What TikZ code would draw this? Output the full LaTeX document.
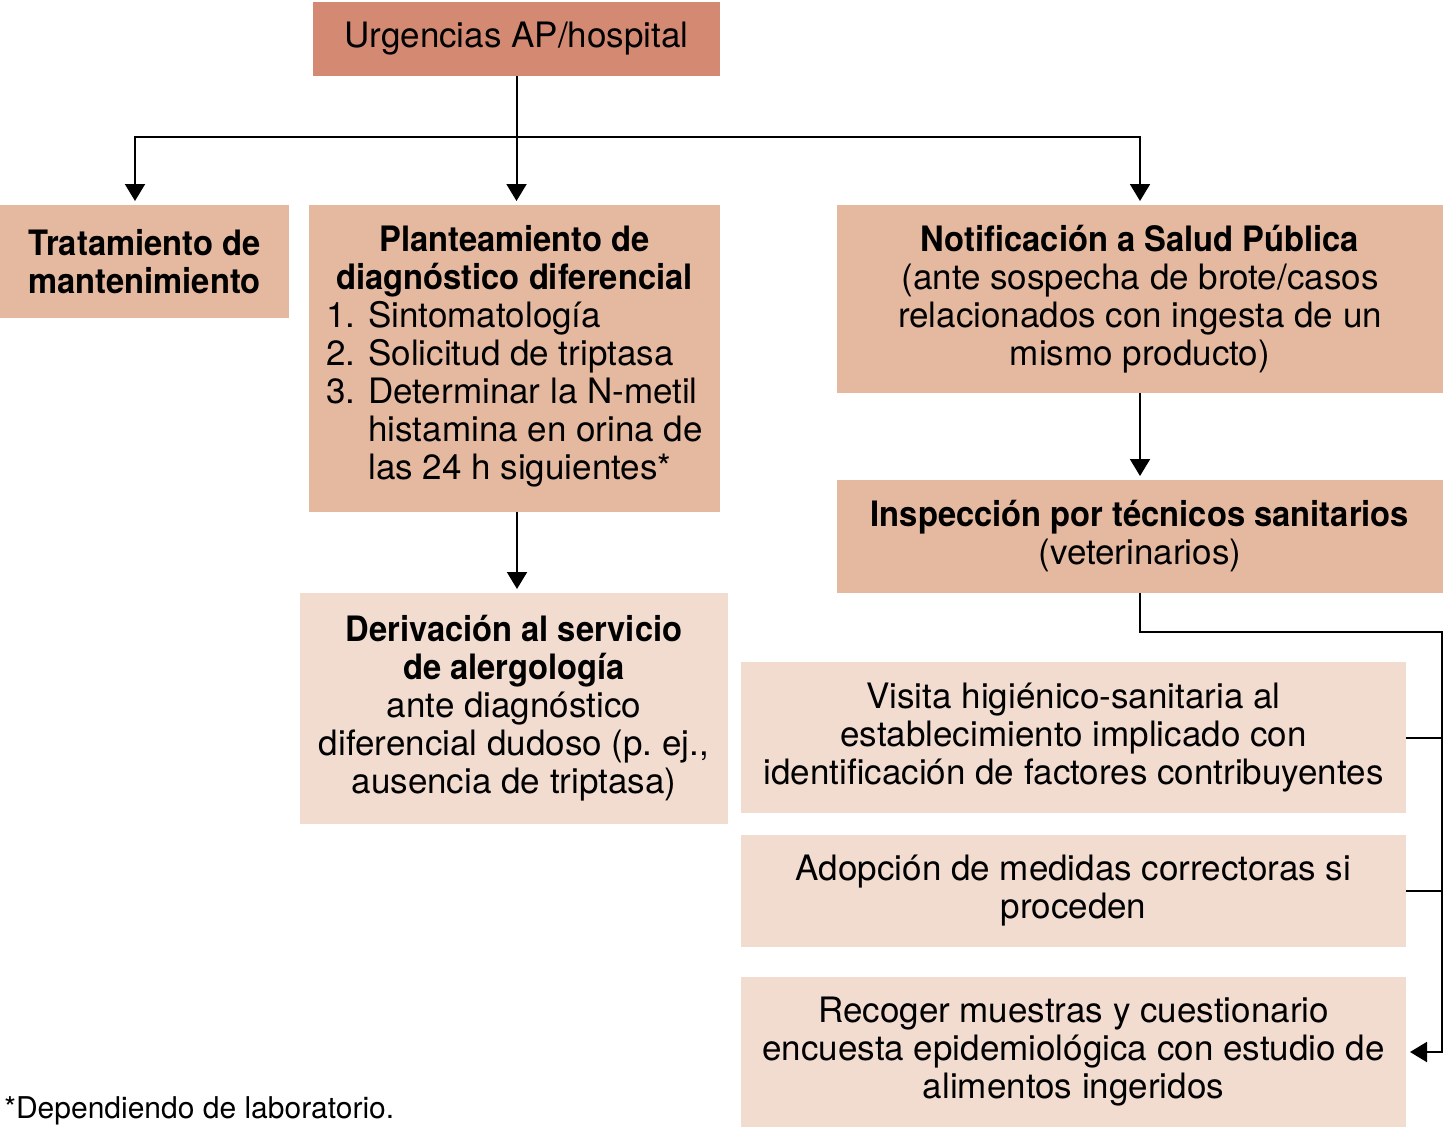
\documentclass[tikz,border=0pt]{standalone}
\usepackage{fontspec}
\setmainfont{TeX Gyre Heros}
\newfontfamily\semibfam[FakeStretch=0.935]{TeX Gyre Heros}
\newcommand{\semibtxt}[1]{{\semibfam\bfseries #1}}
\usetikzlibrary{arrows.meta}
\definecolor{cdark}{HTML}{D48A72}
\definecolor{cmid}{HTML}{E5B9A0}
\definecolor{clight}{HTML}{F2DCD0}
\begin{document}
\begin{tikzpicture}[x=0.5pt,y=-0.5pt,
  box/.style={inner sep=0pt, outer sep=0pt, align=center, font=\fontsize{17.5}{19}\selectfont},
  arr/.style={-{Triangle[width=10pt,length=8.5pt]}, line width=1pt, shorten >=2pt},
  ln/.style={line width=1pt}]
\useasboundingbox (0,0) rectangle (1445,1129);

\node[box, fill=cdark, minimum width=203.5pt, minimum height=37pt] (top) at (516.5,39) {Urgencias AP/hospital};
\node[box, fill=cmid, minimum width=144.5pt, minimum height=56.5pt] (trat) at (144.5,261.5) {\semibtxt{Tratamiento de}\\\semibtxt{mantenimiento}};
\node[box, fill=cmid, minimum width=205.5pt, minimum height=153.5pt] (plan) at (514.5,358.5) {\semibtxt{Planteamiento de}\\\semibtxt{diagnóstico diferencial}\\\begin{tabular}[t]{@{}r@{ }l@{}}1.&Sintomatología\\2.&Solicitud de triptasa\\3.&Determinar la N-metil\\&histamina en orina de\\&las 24 h siguientes*\end{tabular}};
\node[box, fill=cmid, minimum width=303pt, minimum height=94pt] (noti) at (1140,299) {\semibtxt{Notificación a Salud Pública}\\(ante sospecha de brote/casos\\relacionados con ingesta de un\\mismo producto)};
\node[box, fill=cmid, minimum width=303pt, minimum height=56.5pt] (insp) at (1140,536.5) {\semibtxt{Inspección por técnicos sanitarios}\\(veterinarios)};
\node[box, fill=clight, minimum width=214pt, minimum height=115.5pt] (deriv) at (514,708.5) {\semibtxt{Derivación al servicio}\\\semibtxt{de alergología}\\ante diagnóstico\\diferencial dudoso (p.~ej.,\\ausencia de triptasa)};
\node[box, fill=clight, minimum width=332.5pt, minimum height=75.5pt] (visita) at (1073.5,737.5) {Visita higiénico-sanitaria al\\establecimiento implicado con\\identificación de factores contribuyentes};
\node[box, fill=clight, minimum width=332.5pt, minimum height=56pt] (adop) at (1073.5,891) {Adopción de medidas correctoras si\\proceden};
\node[box, fill=clight, minimum width=332.5pt, minimum height=75pt] (recog) at (1073.5,1052) {Recoger muestras y cuestionario\\encuesta epidemiológica con estudio de\\alimentos ingeridos};
\node[anchor=west, inner sep=0pt, font=\fontsize{15}{17}\selectfont] (foot) at (4,1111) {*Dependiendo de laboratorio.};

\coordinate (hub) at (516.5,137);
\coordinate (rail) at (1442,632);
\draw[arr] (top.south) -- (top.south |- plan.north);
\draw[arr] (hub) -| ([xshift=-4.75pt]trat.north);
\draw[arr] (hub) -| (noti.north);
\draw[arr] (noti.south) -- (insp.north);
\draw[arr] ([xshift=1.25pt]plan.south) -- ([xshift=1.25pt]plan.south |- deriv.north);
\draw[arr] (insp.south) |- (rail) |- (recog.east);
\draw[ln] (visita.east) -- (visita.east -| rail);
\draw[ln] (adop.east) -- (adop.east -| rail);
\end{tikzpicture}
\end{document}
